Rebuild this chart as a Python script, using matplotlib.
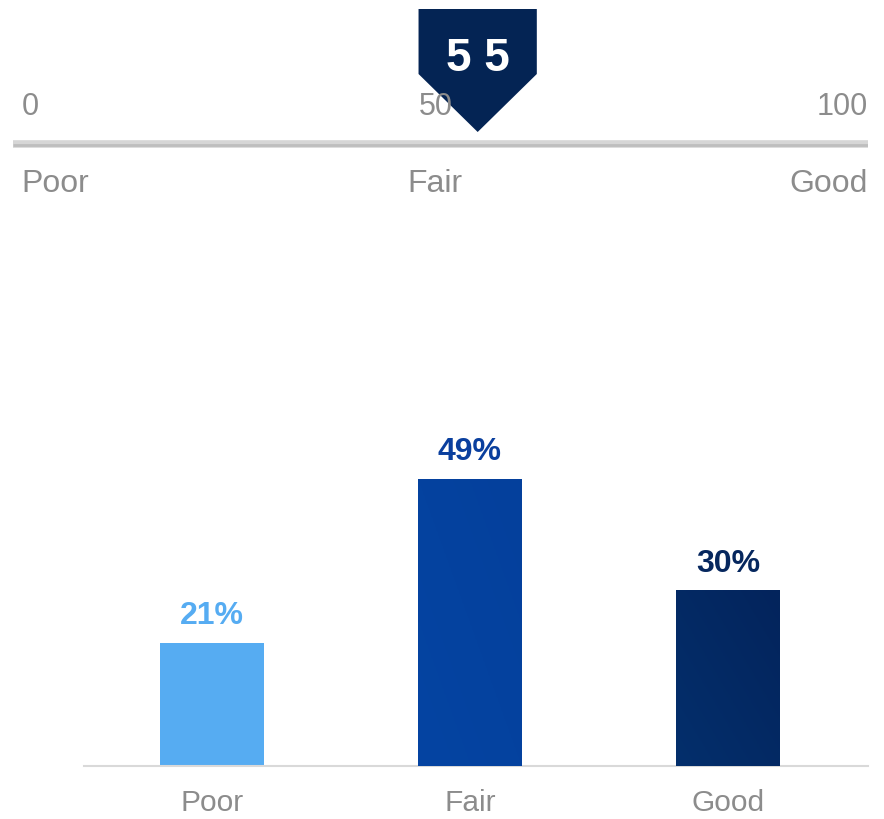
import numpy as np
import matplotlib
matplotlib.use("Agg")
import matplotlib.pyplot as plt
from matplotlib.patches import Polygon
from matplotlib.colors import LinearSegmentedColormap

plt.rcParams['font.family'] = ['Liberation Sans', 'DejaVu Sans']

# ---- data ----
score = 55
gauge_ticks = [0, 50, 100]
gauge_tick_labels = ["0", "50", "100"]
gauge_zone_labels = ["Poor", "Fair", "Good"]
categories = ["Poor", "Fair", "Good"]
shares = [21, 49, 30]
bar_colors = ["#56ACF2", "#0543A0", "#042A66"]
label_colors = ["#56ACF2", "#0A3F9E", "#06275E"]

W, H = 884, 820
fig = plt.figure(figsize=(W / 100, H / 100), dpi=100)

GRAY = "#8C8C8C"

# ---- gauge (top) ----
gx0, gx1 = 13, 868
gax = fig.add_axes([gx0 / W, 1 - 210 / H, (gx1 - gx0) / W, 210 / H])
gax.set_xlim(0, 101.2)
gax.set_ylim(210, 0)
gax.axis('off')

# gauge line with soft shading
gax.plot([0, 101.2], [145, 145], color="#D6D6D6", lw=5.5, solid_capstyle='butt')
gax.plot([0, 101.2], [146, 146], color="#BEBEBE", lw=2.0, solid_capstyle='butt')

# tick and zone labels (drawn above the marker)
aligns = ['left', 'center', 'right']
pos = [1.0, 50.0, 101.2]
for lab, ha, o in zip(gauge_tick_labels, aligns, pos):
    gax.text(o, 107, lab, ha=ha, va='center', fontsize=22, color=GRAY, zorder=7)
for lab, ha, o in zip(gauge_zone_labels, aligns, pos):
    gax.text(o, 184, lab, ha=ha, va='center', fontsize=23, color=GRAY, zorder=7)

# marker
hw = 7.0
marker = Polygon([(score - hw, 10), (score + hw, 10), (score + hw, 75),
                  (score, 133), (score - hw, 75)], closed=True,
                 facecolor="#042454", edgecolor='none', zorder=5)
gax.add_patch(marker)
gax.text(score, 59, " ".join(str(score)), ha='center', va='center',
         fontsize=33, fontweight='bold', color='white', zorder=6)

# ---- bar chart (bottom) ----
bx0, bx1 = 84, 868
base_y, top_y = 767, 415
bax = fig.add_axes([bx0 / W, 1 - base_y / H, (bx1 - bx0) / W, (base_y - top_y) / H])
x = np.arange(len(categories))
bars = bax.bar(x, shares, width=0.403, color=bar_colors, zorder=2)
bax.set_xlim(-0.496, 2.543)
bax.set_ylim(0, 60)

# subtle gradients on darker bars
grads = {1: ("#0544A2", "#04409C"), 2: ("#042F6C", "#03245C")}
for i, (c1, c2) in grads.items():
    b = bars[i]
    cmap = LinearSegmentedColormap.from_list("g", [c1, c2])
    xs = np.linspace(0, 1, 64)
    ys = np.linspace(0, 1, 64)
    gx, gy = np.meshgrid(xs, ys)
    z = (gx + (1 - gy)) / 2
    bx, by = b.get_x(), b.get_y()
    im = bax.imshow(z, cmap=cmap, extent=[bx, bx + b.get_width(), by, by + b.get_height()],
                    aspect='auto', origin='upper', zorder=3)
    im.set_clip_path(b)

for xi, v, c in zip(x, shares, label_colors):
    bax.annotate(f"{v}%", (xi, v), xytext=(0, 9), textcoords='offset points',
                 ha='center', va='bottom', fontsize=23, fontweight='bold', color=c)

for s in ['top', 'right', 'left']:
    bax.spines[s].set_visible(False)
bax.spines['bottom'].set_color("#D9D9D9")
bax.spines['bottom'].set_linewidth(1.5)
bax.set_yticks([])
bax.set_xticks(x)
bax.set_xticklabels(categories, fontsize=21.5, color=GRAY)
bax.tick_params(axis='x', length=0, pad=16)

fig.savefig("out.png", dpi=100)
